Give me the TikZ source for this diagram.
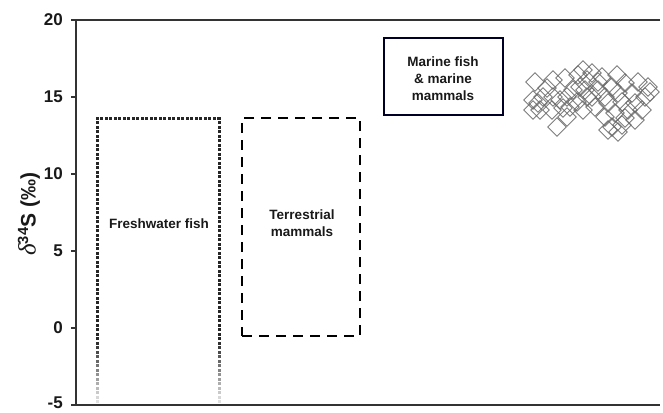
\documentclass[tikz,border=0pt]{standalone}
\usepackage{fontspec}
\setmainfont{Liberation Sans}
\newfontfamily\grkserif{Liberation Serif}
\usetikzlibrary{shapes.geometric}
\begin{document}
\begin{tikzpicture}[x=1pt,y=-1pt,
  axis/.style={line width=1.8pt, draw=black!80},
  ticklbl/.style={font=\bfseries\fontsize{17}{20}\selectfont, anchor=east, inner sep=0pt, text=black!90},
  lbl/.style={font=\bfseries\fontsize{13.5}{17}\selectfont, align=center, text=black!90, inner sep=0pt},
  dashbox/.style={draw=black, line width=2.5pt, dash pattern=on 10pt off 7pt},
  marinebox/.style={draw=black!75!blue!60!black, line width=2.6pt},
  dia/.style={shape=diamond, draw=black!60, line width=0.9pt, minimum width=19pt, minimum height=19pt, inner sep=0pt, draw opacity=0.85}]
\useasboundingbox (0,0) rectangle (663,412);
% axes
\coordinate (tl) at (76,20);
\coordinate (tr) at (660,20);
\coordinate (bl) at (76,405);
\coordinate (br) at (660,405);
\draw[axis] (tr) -- (tl) -- (bl) -- (br);
% ticks
\foreach \v/\yy/\ly in {20/20/20,15/97/97,10/174/174,5/251/251,0/328/328,-5/405/403}{
  \coordinate (t\v) at (76,\yy);
  \draw[axis,line width=1.2pt] (t\v) -- ++(-5,0);
  \node[ticklbl] (l\v) at (63,\ly) {\v};
}
% y label
\node[rotate=90, font=\bfseries\fontsize{21}{24}\selectfont, text=black!90] (ylab) at (29,214) {{\grkserif\mdseries\itshape\fontsize{25}{25}\selectfont δ}\textsuperscript{34}S (‰)};
% dotted freshwater box (fading at bottom)
\foreach \x in {97,101.5,...,219}{
  \fill[black!85] (\x-1.5,118-1.5) rectangle ++(3,3);
}
\fill[black!85] (219-1.5,118-1.5) rectangle ++(3,3);
\foreach \yy in {122.5,127,...,402}{
  \pgfmathsetmacro{\p}{min(85,max(12,85-(\yy-340)/60*73))}
  \fill[black!\p] (97-1.5,\yy-1.5) rectangle ++(3,3);
  \fill[black!\p] (219-1.5,\yy-1.5) rectangle ++(3,3);
}
\node[lbl] (fresh) at (159,224) {Freshwater fish};
% dashed terrestrial box
\node[dashbox, minimum width=118pt, minimum height=218pt, inner sep=0pt] (terrbox) at (301,227) {};
\node[lbl] (terr) at (302,223) {Terrestrial\\mammals};
% marine box
\node[marinebox, minimum width=119pt, minimum height=77pt, inner sep=0pt] (marbox) at (443.5,76.5) {};
\node[lbl] (mar) at (443,79) {Marine fish\\\& marine\\mammals};
% diamonds
\foreach \i/\x/\yy in {1/535/82,2/553/80,3/565/78,4/578/75,5/583/70,6/533/100,7/538/103,8/543/97,9/553/97,10/560/100,
  11/567/97,12/573/90,13/580/87,14/587/80,15/540/110,16/533/110,17/552/110,18/563/108,19/570/107,20/577/102,
  21/567/117,22/557/127,23/587/97,24/592/73,25/602/77,26/617/75,27/638/82,28/648/87,29/625/83,30/612/87,
  31/598/90,32/592/97,33/605/97,34/618/93,35/632/93,36/645/97,37/650/92,38/595/107,39/608/103,40/622/102,
  41/635/103,42/628/110,43/642/110,44/615/113,45/605/117,46/625/118,47/635/120,48/612/127,49/622/125,50/618/132,
  51/608/130,52/585/90,53/598/82,54/547/88,55/583/110}{
  \node[dia] (d\i) at (\x,\yy) {};
}
\end{tikzpicture}
\end{document}
